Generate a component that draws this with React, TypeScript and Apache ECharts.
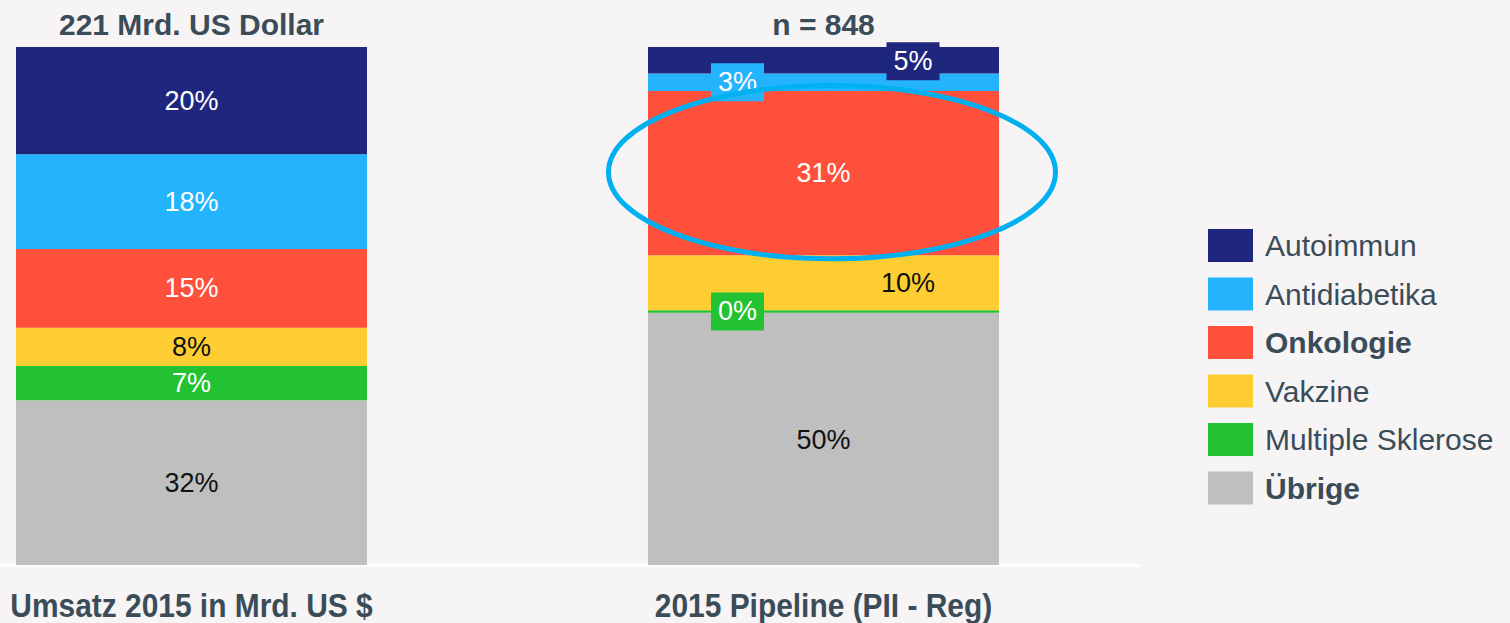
import React, { useEffect, useRef } from 'react';
import * as echarts from 'echarts';

// ---- data ----
const categories = ['Umsatz 2015 in Mrd. US $', '2015 Pipeline (PII - Reg)'];
const topTitles = ['221 Mrd. US Dollar', 'n = 848'];
const seriesNames = ['Autoimmun', 'Antidiabetika', 'Onkologie', 'Vakzine', 'Multiple Sklerose', 'Übrige'];
const umsatzShares = [20.7, 18.3, 15.2, 7.4, 6.6, 31.8];
const pipelineShares = [5.1, 3.4, 31.7, 10.6, 0.5, 48.7];
const umsatzLabels = ['20%', '18%', '15%', '8%', '7%', '32%'];
const pipelineLabels = ['5%', '3%', '31%', '10%', '0%', '50%'];
const legendBold = ['Onkologie', 'Übrige'];
const highlighted = 'Onkologie';

// ---- styles ----
const BG = '#f6f4f5';
const TITLE_COLOR = '#3b4c59';
const FONT = "'Liberation Sans', Arial, sans-serif";
const colors = ['#1e277d', '#24b4fe', '#fe503b', '#fecd32', '#22c232', '#bfbfbf'];
const umsatzTextColors = ['#ffffff', '#ffffff', '#ffffff', '#111111', '#ffffff', '#111111'];
const pipelineTextColors = ['#ffffff', '#ffffff', '#ffffff', '#111111', '#ffffff', '#111111'];
const pipelineOffsets = [[89.5, 1], [-86, 0], [0, 0], [84.5, 0], [-86, 0], [0, 1.5]];
const pipelineBoxed = [true, true, false, false, true, false];

export default function App() {
  const ref = useRef<HTMLDivElement>(null);

  useEffect(() => {
    document.body.style.margin = '0';
    document.body.style.background = BG;
    const chart = echarts.init(ref.current!, null, { renderer: 'svg' });

    const series = seriesNames
      .map((name, i) => ({
        name,
        type: 'bar',
        stack: 'total',
        barWidth: 351,
        xAxisIndex: 0,
        yAxisIndex: 0,
        itemStyle: { color: colors[i] },
        emphasis: { disabled: true },
        data: [
          {
            value: umsatzShares[i],
            label: {
              show: true,
              position: 'inside',
              formatter: umsatzLabels[i],
              fontSize: 27,
              fontFamily: FONT,
              color: umsatzTextColors[i],
            },
          },
          {
            value: pipelineShares[i],
            label: {
              show: true,
              position: 'inside',
              formatter: pipelineLabels[i],
              fontSize: 27,
              fontFamily: FONT,
              color: pipelineTextColors[i],
              offset: pipelineOffsets[i],
              backgroundColor: pipelineBoxed[i] ? colors[i] : 'transparent',
              padding: pipelineBoxed[i] ? [6, 7, 5, 7] : 0,
            },
          },
        ],
      }))
      .reverse();

    const option: any = {
      animation: false,
      backgroundColor: BG,
      grid: { left: -124.5, right: 370.5, top: 47, bottom: 58, outerBoundsMode: 'none', containLabel: false },
      legend: {
        orient: 'vertical',
        left: 1208,
        top: 224,
        padding: [5, 0, 5, 0],
        data: seriesNames,
        icon: 'rect',
        itemWidth: 45,
        itemHeight: 33,
        itemGap: 15.5,
        selectedMode: false,
        formatter: (name: string) => (legendBold.includes(name) ? `{b|${name}}` : name),
        textStyle: {
          fontSize: 30,
          fontFamily: FONT,
          color: TITLE_COLOR,
          padding: [0, 0, 0, 7],
          rich: {
            b: { fontSize: 30, fontFamily: FONT, fontWeight: 'bold', color: TITLE_COLOR },
          },
        },
      },
      xAxis: [
        {
          type: 'category',
          data: categories,
          position: 'bottom',
          offset: 1.5,
          axisLine: { show: true, lineStyle: { color: '#ffffff', width: 2.5 } },
          axisTick: { show: false },
          axisLabel: { show: false },
        },
        {
          type: 'category',
          data: topTitles,
          position: 'top',
          axisLine: { show: false },
          axisTick: { show: false },
          axisLabel: {
            fontFamily: FONT,
            fontWeight: 'bold',
            fontSize: 30,
            color: TITLE_COLOR,
            margin: 8,
          },
        },
      ],
      yAxis: { type: 'value', min: 0, max: 100, show: false },
      series,
    };
    chart.setOption(option);

    // ellipse around the highlighted segment of the pipeline bar
    const idx = seriesNames.indexOf(highlighted);
    const below = pipelineShares.slice(idx + 1).reduce((a, b) => a + b, 0);
    const c = chart.convertToPixel({ xAxisIndex: 0, yAxisIndex: 0 }, [1, below + pipelineShares[idx] / 2]) as number[];
    const graphic: any[] = [
      {
        type: 'ellipse',
        z: 100,
        shape: { cx: c[0] + 8.5, cy: c[1] - 1, rx: 223.5, ry: 86.7 },
        style: { fill: 'none', stroke: '#00b0f0', lineWidth: 5 },
        silent: true,
      },
    ];
    // narrow bold category labels below the bars
    categories.forEach((cat, i) => {
      const p = chart.convertToPixel({ xAxisIndex: 0, yAxisIndex: 0 }, [i, 0]) as number[];
      graphic.push({
        type: 'text',
        x: p[0],
        y: p[1] + 40,
        scaleX: 0.88,
        silent: true,
        style: {
          text: cat,
          fontFamily: FONT,
          fontWeight: 'bold',
          fontSize: 34,
          fill: TITLE_COLOR,
          align: 'center',
          verticalAlign: 'middle',
        },
      });
    });
    chart.setOption({ graphic });

    return () => chart.dispose();
  }, []);

  return <div ref={ref} style={{ position: 'fixed', left: 0, top: 0, width: 1510, height: 623 }} />;
}
